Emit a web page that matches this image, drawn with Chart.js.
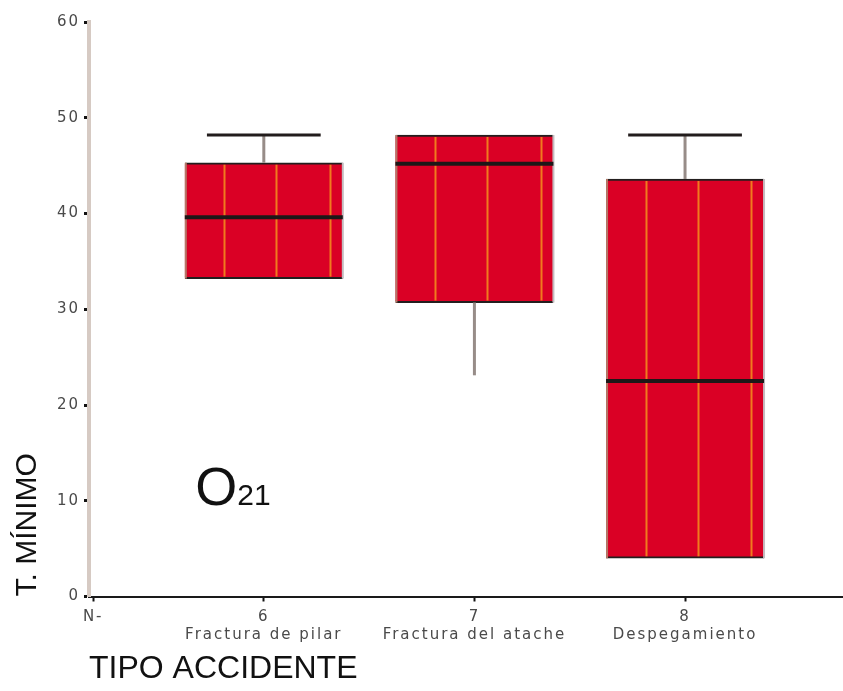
<!DOCTYPE html>
<html>
<head>
<meta charset="utf-8">
<title>T. MÍNIMO por tipo de accidente</title>
<script src="https://cdn.jsdelivr.net/npm/chart.js@4.4.1/dist/chart.umd.min.js"></script>
<style>
  html, body { margin: 0; padding: 0; background: #fff; }
  canvas { display: block; }
</style>
</head>
<body>
<canvas id="boxes" width="843" height="691"></canvas>
<script>
// Values
const categories = ['6', '7', '8'];
const categoryNames = ['Fractura de pilar', 'Fractura del atache', 'Despegamiento'];
const categoryPos = [1, 2, 3];
const whiskerLow = [33.2, 23.1, 4.0];
const q1 = [33.2, 30.7, 4.0];
const median = [39.6, 45.2, 22.5];
const q3 = [45.3, 48.2, 43.6];
const whiskerHigh = [48.2, 48.2, 48.2];
const yTicks = [0, 10, 20, 30, 40, 50, 60];

// x range so the three boxes sit where they do in the original
const X_MIN = 0.17, X_MAX = 3.75;
const N_LABEL_AT = 0.19;
// where the "O21" note sits, in data units
const NOTE_X = 0.675, NOTE_Y = 9.55;

const titleFont = "'Liberation Sans', Arial, sans-serif";
const tickFont = { family: "'DejaVu Sans', sans-serif", size: 15 };

// whiskers, medians, the orange streaks and the note
const boxExtras = {
    id: 'boxExtras',
    afterDatasetsDraw(chart) {
        const { ctx, scales: { x, y } } = chart;
        const meta = chart.getDatasetMeta(0);
        meta.data.forEach((bar, i) => {
            const { x: cx, width } = bar.getProps(['x', 'width'], true);
            const left = cx - width / 2, right = cx + width / 2;
            const top = y.getPixelForValue(q3[i]);
            const bottom = y.getPixelForValue(q1[i]);
            ctx.save();

            // orange streaks inside the box
            ctx.strokeStyle = '#f07a1e';
            ctx.lineWidth = 2;
            [0.25, 0.58, 0.92].forEach(f => {
                const sx = Math.round(left + width * f) + 0.5;
                ctx.beginPath();
                ctx.moveTo(sx, top + 2);
                ctx.lineTo(sx, bottom - 2);
                ctx.stroke();
            });

            // side edges
            ctx.lineWidth = 2;
            ctx.strokeStyle = '#b47868';
            ctx.beginPath(); ctx.moveTo(left + 1, top); ctx.lineTo(left + 1, bottom); ctx.stroke();
            ctx.strokeStyle = '#c4bcc0';
            ctx.beginPath(); ctx.moveTo(right, top); ctx.lineTo(right, bottom); ctx.stroke();

            // whiskers
            ctx.strokeStyle = '#978c88';
            ctx.lineWidth = 3;
            if (whiskerHigh[i] > q3[i]) {
                ctx.beginPath();
                ctx.moveTo(cx, y.getPixelForValue(whiskerHigh[i]));
                ctx.lineTo(cx, top);
                ctx.stroke();
            }
            if (whiskerLow[i] < q1[i]) {
                ctx.beginPath();
                ctx.moveTo(cx, bottom);
                ctx.lineTo(cx, y.getPixelForValue(whiskerLow[i]));
                ctx.stroke();
            }
            // cap on the upper whisker
            if (whiskerHigh[i] > q3[i]) {
                const cy = y.getPixelForValue(whiskerHigh[i]);
                ctx.strokeStyle = '#221c1c';
                ctx.lineWidth = 3;
                ctx.beginPath();
                ctx.moveTo(cx - width * 0.36, cy);
                ctx.lineTo(cx + width * 0.36, cy);
                ctx.stroke();
            }

            // median
            const my = y.getPixelForValue(median[i]);
            ctx.strokeStyle = '#1c1818';
            ctx.lineWidth = 4;
            ctx.beginPath();
            ctx.moveTo(left, my);
            ctx.lineTo(right, my);
            ctx.stroke();
            ctx.restore();
        });

        // "O21" note
        const nx = x.getPixelForValue(NOTE_X), ny = y.getPixelForValue(NOTE_Y);
        ctx.save();
        ctx.fillStyle = '#111';
        ctx.textBaseline = 'alphabetic';
        ctx.textAlign = 'left';
        ctx.font = "54px 'Liberation Sans', Arial, sans-serif";
        ctx.fillText('O', nx, ny);
        const ow = ctx.measureText('O').width;
        ctx.font = "30px 'Liberation Sans', Arial, sans-serif";
        ctx.fillText('21', nx + ow, ny);
        ctx.restore();

        // tick labels are drawn after this (ticks.z = 1): space them out a little
        ctx.letterSpacing = '2px';
    },
    afterDraw(chart) {
        chart.ctx.letterSpacing = '0px';
    }
};

const ctx = document.getElementById('boxes').getContext('2d');
const boxChart = new Chart(ctx, {
    type: 'bar',
    data: {
        datasets: [{
            data: categoryPos.map((p, i) => ({ x: p, y: [q1[i], q3[i]] })),
            backgroundColor: '#da0025',
            borderColor: '#231e1e',
            borderWidth: { top: 2, bottom: 2, left: 0, right: 0 },
            borderSkipped: false,
            barThickness: 158
        }]
    },
    options: {
        responsive: false,
        animation: false,
        layout: { padding: { top: 22, right: 0, bottom: 0, left: 0 } },
        plugins: {
            legend: { display: false },
            tooltip: { enabled: false }
        },
        scales: {
            x: {
                type: 'linear',
                min: X_MIN,
                max: X_MAX,
                offset: false,
                afterBuildTicks: scale => {
                    scale.ticks = [N_LABEL_AT].concat(categoryPos).map(v => ({ value: v }));
                },
                afterFit: scale => { scale.height = 94.5; },
                grid: {
                    offset: false,
                    drawOnChartArea: false,
                    tickLength: 5,
                    tickWidth: 2,
                    tickColor: '#111'
                },
                border: { color: '#1a1a1a', width: 2 },
                ticks: {
                    z: 1,
                    autoSkip: false,
                    maxRotation: 0,
                    padding: 7,
                    color: '#4a4a4a',
                    font: tickFont,
                    callback: value => {
                        const i = categoryPos.indexOf(value);
                        return i < 0 ? ['N-', ''] : [categories[i], categoryNames[i]];
                    }
                },
                title: {
                    display: true,
                    text: 'TIPO ACCIDENTE',
                    align: 'start',
                    color: '#111',
                    font: { family: titleFont, size: 32 },
                    padding: { top: 0, bottom: 3 }
                }
            },
            y: {
                min: 0,
                max: 60,
                afterBuildTicks: scale => {
                    scale.ticks = yTicks.map(v => ({ value: v }));
                },
                afterFit: scale => { scale.width = 89; },
                grid: {
                    drawOnChartArea: false,
                    tickLength: 5,
                    tickWidth: 3,
                    tickColor: '#111'
                },
                border: { color: '#d6cac3', width: 4 },
                ticks: {
                    z: 1,
                    padding: 4,
                    color: '#4a4a4a',
                    font: tickFont
                },
                title: {
                    display: true,
                    text: 'T. MÍNIMO',
                    align: 'start',
                    color: '#111',
                    font: { family: titleFont, size: 30 },
                    padding: { top: 10, bottom: 0 }
                }
            }
        }
    },
    plugins: [boxExtras]
});
</script>
</body>
</html>
